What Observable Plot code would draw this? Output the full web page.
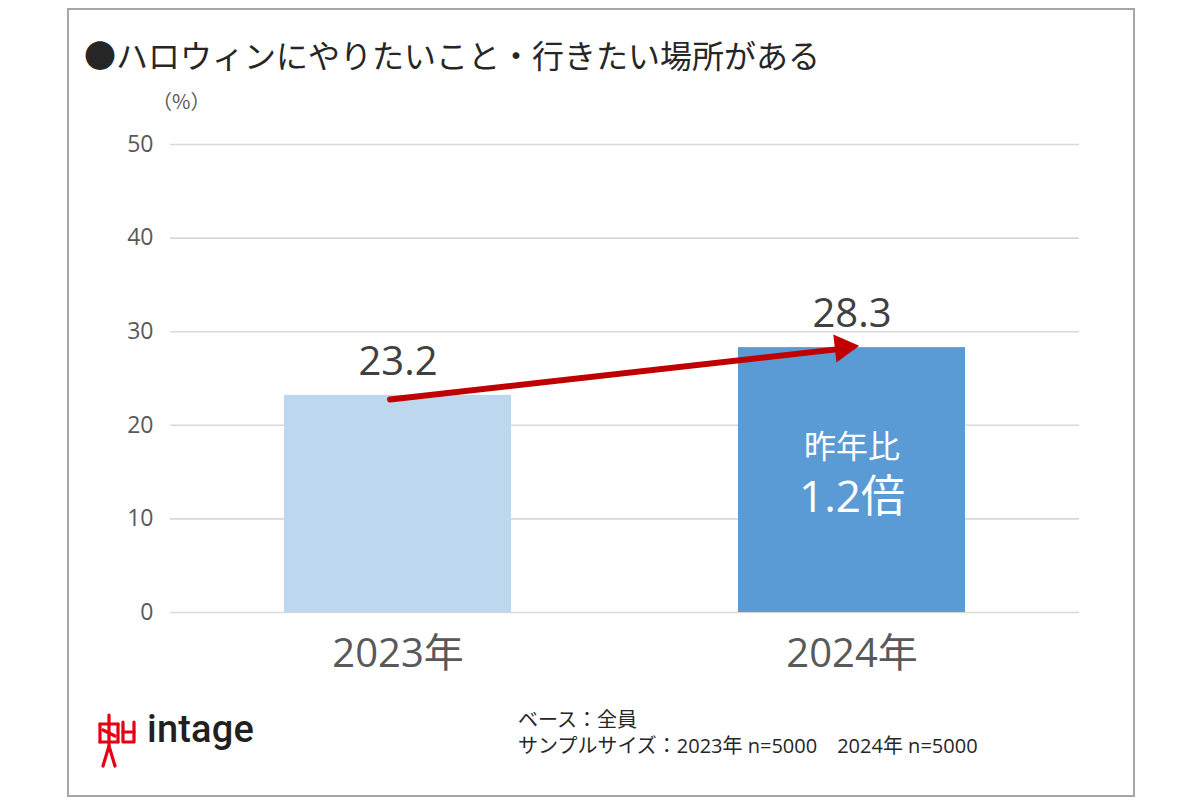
<!DOCTYPE html>
<html>
<head>
<meta charset="utf-8">
<script src="https://cdn.jsdelivr.net/npm/d3@7"></script>
<script src="https://cdn.jsdelivr.net/npm/@observablehq/plot@0.6"></script>
<style>
  html, body { margin: 0; padding: 0; background: #fff; }
  #wrap { position: relative; width: 1200px; height: 800px; overflow: hidden; font-family: "Noto Sans CJK JP", sans-serif; }
  #frame { position: absolute; left: 67px; top: 8px; width: 1064px; height: 785px; border: 2px solid #a6a6a6; }
  #chart { position: absolute; left: 0; top: 0; }
  #title { position: absolute; left: 84px; top: 31px; font-size: 32px; color: #262626; white-space: nowrap; }
  #unit { position: absolute; left: 152px; top: 86px; font-size: 20px; color: #595959; }
  #note { position: absolute; left: 518px; top: 707px; font-family: "Open Sans", "Noto Sans CJK JP", sans-serif; font-size: 20px; line-height: 26px; color: #262626; white-space: pre; }
  #logo { position: absolute; left: 96px; top: 710px; }
  #logotext { position: absolute; left: 147px; top: 707px; font-family: Roboto, sans-serif; font-weight: 500; font-size: 38px; color: #231f20; letter-spacing: 0.2px; }
</style>
</head>
<body>
<div id="wrap">
  <div id="frame"></div>
  <div id="chart"></div>
  <div id="title"></div>
  <div id="unit"></div>
  <div id="note"></div>
  <svg id="logo" width="44" height="64" viewBox="0 0 44 64">
    <g fill="none" stroke="#e60012" stroke-width="3.2" stroke-linecap="round" stroke-linejoin="round">
      <path d="M13 5 L13 14"/>
      <path d="M4 14 L22 14"/>
      <path d="M4 14 L4 32 M22 14 L22 32"/>
      <path d="M4 32 L22 32"/>
      <path d="M13 14 L13 36"/>
      <path d="M13 36 L7 56 M13 36 L19 56"/>
      <path d="M7 20 L19 26"/>
      <path d="M27 12 L27 32 L38 32 L38 12"/>
      <path d="M27 22 L38 22"/>
    </g>
  </svg>
  <div id="logotext">intage</div>
</div>
<script>
// ---- data ----
const years = ["2023年", "2024年"];
const values = [23.2, 28.3];
const yTicks = [0, 10, 20, 30, 40, 50];
const titleText = "●ハロウィンにやりたいこと・行きたい場所がある";
const unitText = "（%）";
const ratioLabel = "昨年比";
const ratioValue = "1.2倍";
const noteLines = ["ベース：全員", "サンプルサイズ：2023年 n=5000　2024年 n=5000"];
const barColors = ["#bdd7ee", "#5b9bd5"];

const rows = years.map((y, i) => ({year: y, value: values[i], color: barColors[i]}));

document.getElementById("title").textContent = titleText;
document.getElementById("unit").textContent = unitText;
document.getElementById("note").textContent = noteLines.join("\n");

const numFont = "'Open Sans', 'Noto Sans CJK JP', sans-serif";

const chart = Plot.plot({
  width: 1200,
  height: 800,
  marginLeft: 170,
  marginRight: 121,
  marginTop: 144,
  marginBottom: 188,
  style: {fontFamily: numFont, background: "transparent", overflow: "visible"},
  x: {domain: years, paddingInner: 0.5, paddingOuter: 0.25, label: null},
  y: {domain: [0, 50], label: null},
  marks: [
    Plot.gridY(yTicks, {stroke: "#d9d9d9", strokeOpacity: 1, strokeWidth: 1.6}),
    Plot.axisY(yTicks, {tickSize: 0, tickPadding: 17, fontSize: 23, fill: "#595959", label: null}),
    Plot.axisX({tickSize: 0, tickPadding: 26, fontSize: 40, fill: "#595959", label: null}),
    Plot.barY(rows, {x: "year", y: "value", fill: "color"}),
    Plot.text(rows, {x: "year", y: "value", text: d => d.value.toFixed(1), dy: -33, lineAnchor: "middle", fontSize: 40, fill: "#404040"}),
    // arrow shaft
    Plot.arrow([rows], {
      x1: d => d[0].year, y1: d => d[0].value - 0.35,
      x2: d => d[1].year, y2: d => d[1].value,
      stroke: "#c00000", strokeWidth: 6, headLength: 0,
      insetStart: -8, insetEnd: 0
    }),
    // arrow head (filled triangle)
    Plot.dot([rows[1]], {x: "year", y: "value", dx: -9, symbol: "triangle", r: 10.5, rotate: 83.5, fill: "#c00000", stroke: "none"}),
    Plot.text([rows[1]], {x: "year", y: () => 17.6, text: () => ratioLabel, fontFamily: "'Noto Sans CJK JP', sans-serif", fontSize: 32, fill: "#ffffff", lineAnchor: "middle"}),
    Plot.text([rows[1]], {x: "year", y: () => 12.2, text: () => ratioValue, fontSize: 44, fill: "#ffffff", lineAnchor: "middle"})
  ]
});
document.getElementById("chart").appendChild(chart);
</script>
</body>
</html>
